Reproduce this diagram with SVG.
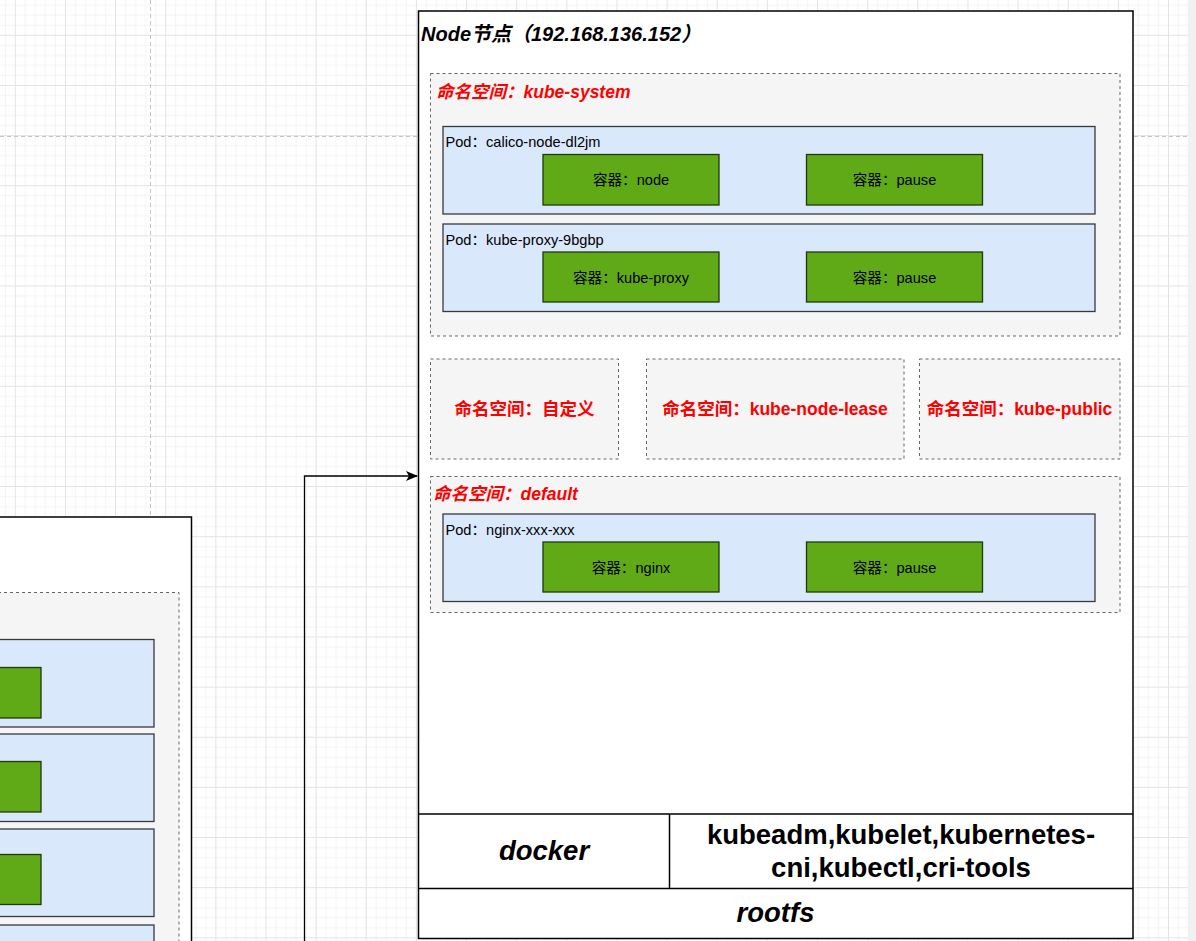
<svg xmlns="http://www.w3.org/2000/svg" width="1196" height="941" viewBox="0 0 1196 941">
<style>
.t{font-family:"Liberation Sans",Arial,"Noto Sans CJK SC",sans-serif;fill:#000}
.ns{fill:#f5f5f5;stroke:#666666;stroke-width:1;stroke-dasharray:3 3}
.pod{fill:#dae8fc;stroke:#36393d;stroke-width:1.3}
.ctr{fill:#60a917;stroke:#1f3a0b;stroke-width:1.3}
.node{fill:#ffffff;stroke:#000000;stroke-width:1.5}
.small{font-size:14.6px}
.nsl{font-size:17.5px;font-weight:bold;fill:#ff0000}
.big{font-size:27.5px;font-weight:bold}
.brk{stroke:#c4c4c4;stroke-width:1;stroke-dasharray:4 3;fill:none}
</style>
<defs>
<pattern id="grid" x="14.8" y="34.8" width="50.14" height="50.14" patternUnits="userSpaceOnUse">
<path d="M10.53 0V50.14M20.56 0V50.14M30.58 0V50.14M40.61 0V50.14M0 10.53H50.14M0 20.56H50.14M0 30.58H50.14M0 40.61H50.14" stroke="#f3f3f3" stroke-width="1"/>
<path d="M0.5 0V50.14M0 0.5H50.14" stroke="#e3e3e3" stroke-width="1"/>
</pattern>
<marker id="arr" viewBox="0 0 12 10" refX="11" refY="5" markerWidth="12" markerHeight="10" markerUnits="userSpaceOnUse" orient="auto">
<path d="M0 0L12 5L0 10L3 5Z" fill="#000"/>
</marker>
</defs>

<g id="background">
<rect x="0" y="0" width="1196" height="941" fill="#ffffff"/>
<rect x="0" y="0" width="1188" height="941" fill="url(#grid)"/>
<rect x="1188" y="0" width="8" height="941" fill="#f1f1f1"/>
<path class="brk" d="M150.5 0V517M0 136.5H1188"/>
</g>

<g id="connectors">
<path d="M304.5 941V476H417" fill="none" stroke="#000" stroke-width="1.3" marker-end="url(#arr)"/>
</g>

<g id="left-node">
<rect class="node" x="-200" y="517" width="391.5" height="500"/>
<rect class="ns" x="-200" y="592.5" width="379" height="400"/>
<rect class="pod" x="-498" y="639.5" width="652" height="87.5"/>
<rect class="pod" x="-498" y="734" width="652" height="87.5"/>
<rect class="pod" x="-498" y="829" width="652" height="87.5"/>
<rect class="pod" x="-498" y="925" width="652" height="87.5"/>
<rect class="ctr" x="-135" y="667.5" width="176" height="50.5"/>
<rect class="ctr" x="-135" y="761.5" width="176" height="50.5"/>
<rect class="ctr" x="-135" y="854.5" width="176" height="50"/>
</g>

<g id="node-main">
<rect class="node" x="418.5" y="11" width="714.5" height="927.5"/>
<text class="t" x="421" y="40.5" font-size="20" font-weight="bold" font-style="italic">Node节点（192.168.136.152）</text>
</g>

<g id="ns-kube-system">
<rect class="ns" x="430.5" y="73.5" width="689.5" height="262.5"/>
<text class="t nsl" x="436" y="98" font-style="italic">命名空间：kube-system</text>
</g>
<g id="pod-calico">
<rect class="pod" x="443" y="126.5" width="652" height="87.5"/>
<text class="t small" x="445.5" y="147">Pod：calico-node-dl2jm</text>
</g>
<g id="ctr-node">
<rect class="ctr" x="543" y="154.5" width="176" height="50.5"/>
<text class="t small" x="631" y="185" text-anchor="middle">容器：node</text>
</g>
<g id="ctr-pause-1">
<rect class="ctr" x="806.5" y="154.5" width="176" height="50.5"/>
<text class="t small" x="894.5" y="185" text-anchor="middle">容器：pause</text>
</g>
<g id="pod-kube-proxy">
<rect class="pod" x="443" y="224" width="652" height="87.5"/>
<text class="t small" x="445.5" y="245">Pod：kube-proxy-9bgbp</text>
</g>
<g id="ctr-kube-proxy">
<rect class="ctr" x="543" y="252" width="176" height="50"/>
<text class="t small" x="631" y="282.5" text-anchor="middle">容器：kube-proxy</text>
</g>
<g id="ctr-pause-2">
<rect class="ctr" x="806.5" y="252" width="176" height="50"/>
<text class="t small" x="894.5" y="282.5" text-anchor="middle">容器：pause</text>
</g>

<g id="ns-custom">
<rect class="ns" x="430.5" y="359" width="188" height="100"/>
<text class="t nsl" x="524.5" y="415" text-anchor="middle">命名空间：自定义</text>
</g>
<g id="ns-kube-node-lease">
<rect class="ns" x="646.5" y="359" width="257.5" height="100"/>
<text class="t nsl" x="775" y="415" text-anchor="middle">命名空间：kube-node-lease</text>
</g>
<g id="ns-kube-public">
<rect class="ns" x="919.5" y="359" width="200.5" height="100"/>
<text class="t nsl" x="1019.5" y="415" text-anchor="middle">命名空间：kube-public</text>
</g>

<g id="ns-default">
<rect class="ns" x="430.5" y="476.5" width="689.5" height="136"/>
<text class="t nsl" x="433" y="500" font-style="italic">命名空间：default</text>
</g>
<g id="pod-nginx">
<rect class="pod" x="443" y="514" width="652" height="87.5"/>
<text class="t small" x="445.5" y="535">Pod：nginx-xxx-xxx</text>
</g>
<g id="ctr-nginx">
<rect class="ctr" x="543" y="542" width="176" height="50"/>
<text class="t small" x="631" y="572.5" text-anchor="middle">容器：nginx</text>
</g>
<g id="ctr-pause-3">
<rect class="ctr" x="806.5" y="542" width="176" height="50"/>
<text class="t small" x="894.5" y="572.5" text-anchor="middle">容器：pause</text>
</g>

<g id="runtime-layer">
<path d="M418.5 814H1133M669.5 814V888.5M418.5 888.5H1133" stroke="#000" stroke-width="1.5" fill="none"/>
<text class="t big" x="544" y="860" text-anchor="middle" font-style="italic">docker</text>
<text class="t big" x="901" y="844" text-anchor="middle">kubeadm,kubelet,kubernetes-</text>
<text class="t big" x="901" y="877" text-anchor="middle">cni,kubectl,cri-tools</text>
<text class="t big" x="775.5" y="922" text-anchor="middle" font-style="italic">rootfs</text>
</g>
</svg>
